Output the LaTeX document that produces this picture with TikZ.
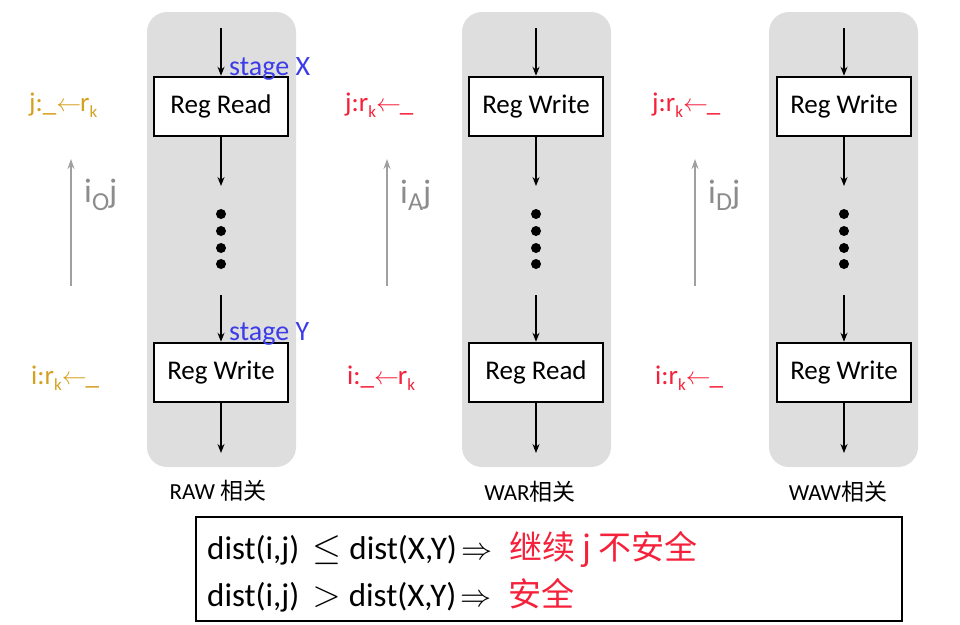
\documentclass[tikz,border=0pt]{standalone}
\usepackage{fontspec}
\setmainfont{Carlito}
\newfontfamily\cjk{Noto Sans CJK SC}
\usetikzlibrary{arrows.meta}
\definecolor{panelgray}{HTML}{DEDEDE}
\definecolor{gold}{HTML}{D4A020}
\definecolor{hazred}{HTML}{F5203A}
\definecolor{stageblue}{HTML}{3C3CE8}
\definecolor{deparrow}{HTML}{A0A0A0}
\definecolor{deplabel}{HTML}{8C8C8C}
\newcommand{\subk}{\raisebox{-0.45ex}{\fontsize{17}{17}\selectfont k}}
\newcommand{\larr}{\ensuremath{\leftarrow}\kern-1pt}
\begin{document}
\begin{tikzpicture}[x=1pt,y=-1pt,
  panel/.style={fill=panelgray,draw=none,rounded corners=20pt,minimum width=149pt,minimum height=455pt,inner sep=0pt},
  regbox/.style={draw=black,line width=2.5pt,fill=white,minimum width=134pt,minimum height=59pt,inner sep=0pt,font=\fontsize{27}{27}\selectfont},
  flow/.style={-{Stealth[length=9pt,width=7pt]},line width=1.2pt,black},
  dot/.style={circle,fill=black,inner sep=0pt,minimum size=10pt},
  stagelbl/.style={text=stageblue,font=\fontsize{28}{28}\selectfont,anchor=west,inner sep=0pt},
  hazlbl/.style={font=\fontsize{27}{27}\selectfont,anchor=west,inner sep=0pt},
  deparr/.style={-{Stealth[length=10pt,width=7pt]},line width=2pt,deparrow},
  deplbl/.style={text=deplabel,font=\fontsize{34}{34}\selectfont,anchor=west,inner sep=0pt},
  caption/.style={font=\fontsize{23}{23}\selectfont,inner sep=0pt},
  ruletext/.style={anchor=west,inner sep=0pt,font=\fontsize{33}{33}\selectfont},
]
\useasboundingbox (0,0) rectangle (960,624);

% ---------- panel 1 (RAW)
\node[panel] (p1) at (221.5,239.5) {};
\node[regbox] (r1a) at (221,106.5) {Reg Read};
\node[regbox] (r1b) at (221,372.5) {Reg Write};
\coordinate (t1) at (221,28);
\coordinate (m1a) at (221,186);
\coordinate (m1b) at (221,295);
\coordinate (e1) at (221,453);
\draw[flow] (t1) -- (r1a.north);
\draw[flow] (r1a.south) -- (m1a);
\draw[flow] (m1b) -- (r1b.north);
\draw[flow] (r1b.south) -- (e1);
\node[dot] (d1a) at (221,214) {};
\node[dot] (d1b) at (221,231) {};
\node[dot] (d1c) at (221,248) {};
\node[dot] (d1d) at (221,264) {};
\node[stagelbl] (sx) at (229,69) {stage X};
\node[stagelbl] (sy) at (229,334) {stage Y};
\node[hazlbl,text=gold] (h1a) at (29,105) {j:\_\larr r\subk};
\node[hazlbl,text=gold] (h1b) at (31,378) {i:r\subk\larr\_};
\coordinate (g1s) at (71,286);
\coordinate (g1e) at (71,159);
\draw[deparr] (g1s) -- (g1e);
\node[deplbl] (l1) at (84,195) {i\raisebox{-0.45ex}{\fontsize{26}{26}\selectfont O}j};
\node[caption] (c1) at (218,491) {RAW {\cjk 相关}};

% ---------- panel 2 (WAR)
\node[panel] (p2) at (536.5,239.5) {};
\node[regbox] (r2a) at (536,106.5) {Reg Write};
\node[regbox] (r2b) at (536,372.5) {Reg Read};
\coordinate (t2) at (536,28);
\coordinate (m2a) at (536,186);
\coordinate (m2b) at (536,295);
\coordinate (e2) at (536,453);
\draw[flow] (t2) -- (r2a.north);
\draw[flow] (r2a.south) -- (m2a);
\draw[flow] (m2b) -- (r2b.north);
\draw[flow] (r2b.south) -- (e2);
\node[dot] (d2a) at (536,214) {};
\node[dot] (d2b) at (536,231) {};
\node[dot] (d2c) at (536,248) {};
\node[dot] (d2d) at (536,264) {};
\node[hazlbl,text=hazred] (h2a) at (345,105) {j:r\subk\larr\_};
\node[hazlbl,text=hazred] (h2b) at (347,378) {i:\_\larr r\subk};
\coordinate (g2s) at (387,286);
\coordinate (g2e) at (387,159);
\draw[deparr] (g2s) -- (g2e);
\node[deplbl] (l2) at (400,195) {i\raisebox{-0.45ex}{\fontsize{26}{26}\selectfont A}j};
\node[caption] (c2) at (530,492) {WAR{\cjk 相关}};

% ---------- panel 3 (WAW)
\node[panel] (p3) at (843.5,239.5) {};
\node[regbox] (r3a) at (844,106.5) {Reg Write};
\node[regbox] (r3b) at (844,372.5) {Reg Write};
\coordinate (t3) at (844,28);
\coordinate (m3a) at (844,186);
\coordinate (m3b) at (844,295);
\coordinate (e3) at (844,453);
\draw[flow] (t3) -- (r3a.north);
\draw[flow] (r3a.south) -- (m3a);
\draw[flow] (m3b) -- (r3b.north);
\draw[flow] (r3b.south) -- (e3);
\node[dot] (d3a) at (844,214) {};
\node[dot] (d3b) at (844,231) {};
\node[dot] (d3c) at (844,248) {};
\node[dot] (d3d) at (844,264) {};
\node[hazlbl,text=hazred] (h3a) at (652,105) {j:r\subk\larr\_};
\node[hazlbl,text=hazred] (h3b) at (655,378) {i:r\subk\larr\_};
\coordinate (g3s) at (695,286);
\coordinate (g3e) at (695,159);
\draw[deparr] (g3s) -- (g3e);
\node[deplbl] (l3) at (708,195) {i\raisebox{-0.45ex}{\fontsize{26}{26}\selectfont D}j};
\node[caption] (c3) at (838,492) {WAW{\cjk 相关}};

% ---------- rule box
\node[draw=black,line width=2.5pt,minimum width=706pt,minimum height=104pt,inner sep=0pt] (rules) at (549,569) {};
\node[ruletext] (rl1) at (207,549)
  {dist(i,j)\hspace{13pt}\scalebox{1.5}{$\leq$}\hspace{8pt}dist(X,Y)\hspace{4pt}\scalebox{1.25}{$\Rightarrow$}\hspace{17pt}\textcolor{hazred}{\cjk 继续 j 不安全}};
\node[ruletext] (rl2) at (207,595)
  {dist(i,j)\hspace{13pt}\scalebox{1.5}{$>$}\hspace{8pt}dist(X,Y)\hspace{4pt}\scalebox{1.25}{$\Rightarrow$}\hspace{17pt}\textcolor{hazred}{\cjk 安全}};
\end{tikzpicture}
\end{document}
